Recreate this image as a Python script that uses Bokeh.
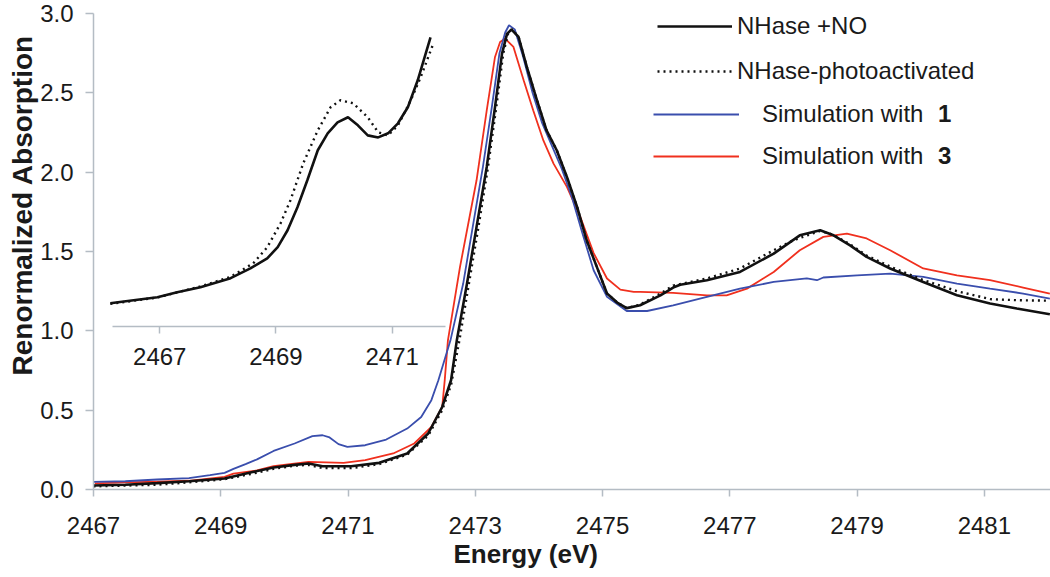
from bokeh.plotting import figure
from bokeh.models import (Range1d, LinearAxis, FixedTicker, PrintfTickFormatter,
                          Legend, LegendItem, Title)
from bokeh.embed import file_html
from bokeh.resources import INLINE

# ---------------- data ----------------
x_ticks = [2467, 2469, 2471, 2473, 2475, 2477, 2479, 2481]
y_ticks = [0.0, 0.5, 1.0, 1.5, 2.0, 2.5, 3.0]
inset_ticks = [2467, 2469, 2471]

nhase_no_e = [2467.00, 2467.50, 2468.00, 2468.50, 2469.06, 2469.50, 2469.83, 2470.16,
              2470.38, 2470.60, 2471.05, 2471.49, 2471.93, 2472.26, 2472.48, 2472.62,
              2472.71, 2472.87, 2473.02, 2473.18, 2473.31, 2473.42, 2473.50, 2473.57,
              2473.68, 2473.81, 2473.97, 2474.12, 2474.28, 2474.44, 2474.60, 2474.75,
              2474.91, 2475.07, 2475.23, 2475.38, 2475.59, 2475.91, 2476.11, 2476.22,
              2476.64, 2477.16, 2477.69, 2478.10, 2478.42, 2478.63, 2478.89, 2479.15,
              2479.52, 2480.04, 2480.57, 2481.09, 2481.51, 2482.03]
nhase_no_v = [0.025, 0.030, 0.040, 0.052, 0.069, 0.110, 0.139, 0.155,
              0.164, 0.147, 0.147, 0.168, 0.227, 0.353, 0.520, 0.690,
              0.940, 1.298, 1.655, 2.033, 2.410, 2.747, 2.873, 2.899,
              2.852, 2.663, 2.453, 2.264, 2.138, 1.970, 1.781, 1.571,
              1.403, 1.235, 1.178, 1.143, 1.161, 1.224, 1.273, 1.290,
              1.319, 1.371, 1.487, 1.602, 1.634, 1.602, 1.539, 1.466,
              1.393, 1.308, 1.224, 1.172, 1.141, 1.105]

photo_e = [2467.00, 2467.50, 2468.00, 2468.50, 2469.06, 2469.50, 2469.83, 2470.16,
           2470.38, 2470.60, 2471.05, 2471.49, 2471.93, 2472.26, 2472.48, 2472.62,
           2472.75, 2472.90, 2473.05, 2473.20, 2473.33, 2473.44, 2473.52, 2473.58,
           2473.68, 2473.81, 2473.97, 2474.12, 2474.28, 2474.44, 2474.60, 2474.75,
           2474.91, 2475.07, 2475.23, 2475.38, 2475.59, 2475.91, 2476.11, 2476.64,
           2477.16, 2477.69, 2478.00, 2478.42, 2478.63, 2478.89, 2479.15, 2479.52,
           2480.04, 2480.57, 2481.09, 2481.51, 2482.03]
photo_v = [0.020, 0.025, 0.030, 0.045, 0.065, 0.100, 0.130, 0.150,
           0.155, 0.135, 0.135, 0.160, 0.220, 0.340, 0.500, 0.660,
           0.940, 1.298, 1.655, 2.033, 2.410, 2.750, 2.880, 2.900,
           2.852, 2.663, 2.453, 2.264, 2.138, 1.970, 1.781, 1.571,
           1.403, 1.235, 1.178, 1.143, 1.165, 1.235, 1.285, 1.330,
           1.393, 1.508, 1.571, 1.630, 1.605, 1.545, 1.475, 1.405,
           1.320, 1.250, 1.200, 1.193, 1.190]

sim1_e = [2467.00, 2467.50, 2468.00, 2468.50, 2468.83, 2469.06, 2469.20, 2469.39,
          2469.57, 2469.83, 2470.16, 2470.44, 2470.60, 2470.71, 2470.85, 2470.99,
          2471.27, 2471.60, 2471.93, 2472.15, 2472.31, 2472.42, 2472.61, 2472.81,
          2472.96, 2473.12, 2473.26, 2473.38, 2473.47, 2473.53, 2473.62, 2473.75,
          2473.90, 2474.05, 2474.20, 2474.36, 2474.52, 2474.68, 2474.86, 2475.07,
          2475.38, 2475.70, 2476.11, 2476.64, 2477.16, 2477.69, 2478.21, 2478.37,
          2478.47, 2479.00, 2479.52, 2480.04, 2480.57, 2481.09, 2481.61, 2482.03]
sim1_v = [0.048, 0.052, 0.063, 0.072, 0.090, 0.105, 0.130, 0.160,
          0.190, 0.243, 0.290, 0.336, 0.342, 0.328, 0.286, 0.268,
          0.279, 0.315, 0.384, 0.457, 0.563, 0.689, 0.940, 1.298,
          1.655, 2.033, 2.410, 2.750, 2.880, 2.926, 2.900, 2.730,
          2.500, 2.310, 2.170, 2.020, 1.840, 1.620, 1.382, 1.214,
          1.125, 1.125, 1.161, 1.214, 1.266, 1.308, 1.330, 1.319,
          1.336, 1.350, 1.361, 1.340, 1.298, 1.266, 1.235, 1.203]

sim3_e = [2467.02, 2467.50, 2468.00, 2468.50, 2469.06, 2469.20, 2469.57, 2469.83,
          2470.38, 2470.93, 2471.27, 2471.71, 2472.04, 2472.31, 2472.48, 2472.52,
          2472.57, 2472.76, 2473.02, 2473.18, 2473.31, 2473.39, 2473.47, 2473.60,
          2473.76, 2473.91, 2474.07, 2474.23, 2474.44, 2474.65, 2474.86, 2475.07,
          2475.28, 2475.49, 2475.59, 2476.11, 2476.64, 2476.95, 2477.27, 2477.69,
          2478.10, 2478.47, 2478.84, 2479.15, 2479.52, 2480.04, 2480.57, 2481.09,
          2481.61, 2482.03]
sim3_v = [0.038, 0.045, 0.050, 0.055, 0.079, 0.100, 0.120, 0.147,
          0.174, 0.168, 0.185, 0.227, 0.290, 0.394, 0.520, 0.689,
          0.940, 1.403, 1.949, 2.390, 2.726, 2.820, 2.842, 2.789,
          2.579, 2.390, 2.200, 2.054, 1.907, 1.718, 1.490, 1.330,
          1.260, 1.245, 1.245, 1.239, 1.224, 1.224, 1.266, 1.371,
          1.508, 1.592, 1.613, 1.582, 1.508, 1.393, 1.350, 1.319,
          1.273, 1.235]

# inset (pre-edge magnified), values as drawn on the main scale
inset_no_e = [2466.15, 2466.55, 2466.96, 2467.30, 2467.70, 2468.22, 2468.56, 2468.85,
              2469.03, 2469.20, 2469.37, 2469.54, 2469.72, 2469.89, 2470.06, 2470.24,
              2470.41, 2470.58, 2470.76, 2470.93, 2471.10, 2471.27, 2471.44, 2471.66]
inset_no_v = [1.174, 1.193, 1.212, 1.243, 1.275, 1.332, 1.394, 1.457,
              1.527, 1.634, 1.779, 1.949, 2.138, 2.245, 2.314, 2.346,
              2.295, 2.232, 2.219, 2.245, 2.308, 2.409, 2.579, 2.850]

inset_photo_e = [2466.15, 2466.96, 2467.70, 2468.22, 2468.61, 2468.85, 2469.08, 2469.25,
                 2469.47, 2469.72, 2469.94, 2470.11, 2470.33, 2470.58, 2470.76, 2470.93,
                 2471.10, 2471.32, 2471.49, 2471.71]
inset_photo_v = [1.170, 1.210, 1.280, 1.340, 1.426, 1.527, 1.678, 1.823,
                 2.056, 2.264, 2.409, 2.453, 2.434, 2.346, 2.251, 2.232,
                 2.295, 2.453, 2.598, 2.812]

labels = ["NHase +NO", "NHase-photoactivated", "Simulation with", "1", "3"]
x_title = "Energy (eV)"
y_title = "Renormalized Absorption"

# ---------------- styles ----------------
FONT = "Liberation Sans"
AX = "#b4bcc4"
TXT = "#1a1a1a"
BLACK = "#111111"
BLUE = "#3a4ead"
RED = "#f0301e"

p = figure(width=1050, height=577, x_range=Range1d(2467, 2482.04), y_range=Range1d(0, 3.0),
           output_backend="svg", toolbar_location=None,
           min_border_left=93, min_border_right=0, min_border_top=13, min_border_bottom=88)
p.outline_line_color = None
p.xgrid.visible = False
p.ygrid.visible = False
p.background_fill_color = "white"
p.border_fill_color = "white"

p.extra_x_ranges = {"inset": Range1d(2465.86, 2482.33)}


def style_axis(ax, tick_out, standoff):
    ax.axis_line_color = AX
    ax.axis_line_width = 1.5
    ax.major_tick_line_color = AX
    ax.major_tick_line_width = 1.5
    ax.major_tick_out = tick_out
    ax.major_tick_in = 0
    ax.minor_tick_out = 0
    ax.minor_tick_in = 0
    ax.major_label_text_font = FONT
    ax.major_label_text_font_size = "24px"
    ax.major_label_text_color = TXT
    ax.major_label_standoff = standoff


xa = p.xaxis[0]
xa.ticker = FixedTicker(ticks=x_ticks)
style_axis(xa, 7, 20)
ya = p.yaxis[0]
ya.ticker = FixedTicker(ticks=y_ticks)
ya.formatter = PrintfTickFormatter(format="%.1f")
style_axis(ya, 8, 12)

# inset axis (floating)
ia = LinearAxis(x_range_name="inset", fixed_location=1.03, bounds=(2466.19, 2471.92),
                ticker=FixedTicker(ticks=inset_ticks))
style_axis(ia, 7, 15)
p.add_layout(ia, "below")

# axis titles
p.add_layout(Title(text=y_title, align="left", offset=114,
                   text_font=FONT, text_font_size="28px", text_font_style="bold",
                   text_color=TXT, standoff=0), "left")
p.add_layout(Title(text=x_title, align="left", offset=360,
                   text_font=FONT, text_font_size="26px", text_font_style="bold",
                   text_color=TXT, standoff=0), "below")

# curves
r_red = p.line(sim3_e, sim3_v, line_color=RED, line_width=1.8)
r_blue = p.line(sim1_e, sim1_v, line_color=BLUE, line_width=1.8)
r_no = p.line(nhase_no_e, nhase_no_v, line_color=BLACK, line_width=2.6)
r_ph = p.line(photo_e, photo_v, line_color=BLACK, line_width=2.4, line_dash="2 4")
p.line(inset_photo_e, inset_photo_v, x_range_name="inset", line_color=BLACK,
       line_width=2.4, line_dash="2 4")
p.line(inset_no_e, inset_no_v, x_range_name="inset", line_color=BLACK, line_width=2.6)


def make_legend(items, loc, glyph_w, standoff, spacing, bold=False):
    lg = Legend(items=items, location=loc, glyph_width=glyph_w, glyph_height=30,
                label_height=30, label_standoff=standoff, spacing=spacing,
                padding=0, margin=0, border_line_alpha=0, background_fill_alpha=0,
                label_text_font=FONT, label_text_font_size="24px",
                label_text_color=TXT)
    if bold:
        lg.label_text_font_style = "bold"
    p.add_layout(lg)
    return lg


make_legend([LegendItem(label=labels[0], renderers=[r_no]),
             LegendItem(label=labels[1], renderers=[r_ph])],
            (564, 403), 75, 5, 15)
make_legend([LegendItem(label=labels[2], renderers=[r_blue]),
             LegendItem(label=labels[2], renderers=[r_red])],
            (560, 318), 86, 23, 12)
make_legend([LegendItem(label=labels[3], renderers=[r_blue]),
             LegendItem(label=labels[4], renderers=[r_red])],
            (845, 318), 0, 0, 12, bold=True)

open("out.html", "w").write(file_html(p, INLINE))
